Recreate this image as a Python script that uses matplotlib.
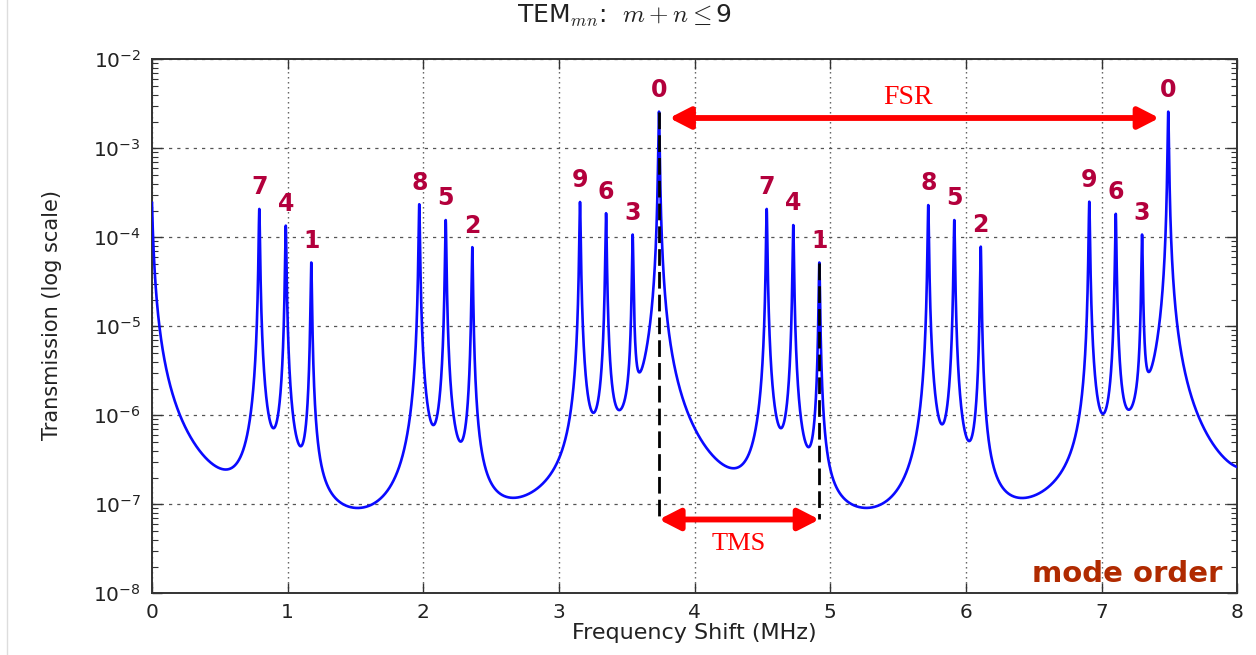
import numpy as np
import matplotlib

matplotlib.use("Agg")
import matplotlib.pyplot as plt
from matplotlib.lines import Line2D
from matplotlib.patches import FancyArrowPatch
from matplotlib.ticker import FixedLocator, NullFormatter, LogFormatterSciNotation

# ── cavity resonances: frequency shift (MHz) and peak transmission ─────────
MODE_ORDER = [7, 4, 1, 8, 5, 2, 9, 6, 3, 0,
              7, 4, 1, 8, 5, 2, 9, 6, 3, 0]
PEAK_FREQ = [0.791, 0.986, 1.174, 1.970, 2.165, 2.361, 3.155, 3.347, 3.543, 3.737,
             4.531, 4.727, 4.919, 5.722, 5.914, 6.109, 6.909, 7.104, 7.298, 7.491]
PEAK_HEIGHT = [2.08e-4, 1.35e-4, 5.19e-5, 2.35e-4, 1.56e-4, 7.73e-5, 2.49e-4, 1.86e-4, 1.06e-4, 2.58e-3,
               2.08e-4, 1.37e-4, 5.19e-5, 2.30e-4, 1.56e-4, 7.83e-5, 2.51e-4, 1.83e-4, 1.06e-4, 2.58e-3]
HALF_WIDTH = 0.0042   # Lorentzian HWHM, MHz
FSR = 3.75            # free spectral range, MHz

X_TICKS = [0, 1, 2, 3, 4, 5, 6, 7, 8]
Y_DECADES = [-8, -7, -6, -5, -4, -3, -2]

LABEL_RED = "#b3003c"
ARROW_RED = "#ff0000"


def transmission(freq, centers, heights, gamma):
    """Incoherent sum of Lorentzian resonances."""
    out = np.zeros_like(freq)
    for f0, a in zip(centers, heights):
        out += a / (1.0 + ((freq - f0) / gamma) ** 2)
    return out


pos = np.array(PEAK_FREQ)
amp = np.array(PEAK_HEIGHT)

# neighbouring orders just outside the window still feed the wings
img_pos = np.concatenate([pos - FSR, pos + FSR])
img_amp = np.concatenate([amp, amp])
outside = (img_pos < 0) | (img_pos > 8)
all_pos = np.concatenate([pos, img_pos[outside]])
all_amp = np.concatenate([amp, img_amp[outside]])

freq = np.union1d(np.linspace(0, 8, 24001), pos)
trans = transmission(freq, all_pos, all_amp, HALF_WIDTH)

# ── figure ─────────────────────────────────────────────────────────────────
W, H = 1256, 655
fig = plt.figure(figsize=(W / 100, H / 100), dpi=100, facecolor="white")
ax = fig.add_axes([152 / W, 1 - 593.3 / H, (1237.3 - 152) / W, (593.3 - 59.3) / H])

ax.plot(freq, trans, color="#0a0aff", lw=1.9, zorder=3)
ax.set_yscale("log")
ax.set_xlim(0, 8)
ax.set_ylim(1e-8, 1e-2)
ax.set_xticks(X_TICKS)

# explicit decade / sub-decade ticks, only inside the visible range
major_y = [10.0 ** e for e in Y_DECADES]
minor_y = [k * 10.0 ** e for e in Y_DECADES[:-1] for k in range(2, 10)]
ax.yaxis.set_major_locator(FixedLocator(major_y))
ax.yaxis.set_major_formatter(LogFormatterSciNotation())
ax.yaxis.set_minor_locator(FixedLocator(minor_y))
ax.yaxis.set_minor_formatter(NullFormatter())

ax.xaxis.grid(True, linestyle=(0, (1, 2.6)), color="#555", lw=1.0)
ax.yaxis.grid(True, which="major", linestyle=(0, (2.6, 4)), color="#555", lw=0.9)
ax.set_axisbelow(True)

for s in ax.spines.values():
    s.set_linewidth(1.4)
    s.set_color("#333")
ax.tick_params(which="both", direction="in", top=True, right=True,
               colors="#333", labelcolor="#222", labelsize=14.5)
ax.tick_params(which="major", length=7, width=1.0)
ax.tick_params(which="minor", length=4, width=0.8)
ax.tick_params(axis="y", pad=8)
ax.tick_params(axis="x", pad=7)

ax.set_xlabel("Frequency Shift (MHz)", fontsize=16, color="#222", va="top")
ax.xaxis.set_label_coords(0.5, -0.056)
ax.set_ylabel("Transmission (log scale)", fontsize=15, color="#222")
ax.yaxis.set_label_coords(-0.083, 0.521)

fig.text(625 / W, 1 - 16 / H, r"TEM$_{mn}$:  $m+n\leq$9", ha="center", va="center",
         fontsize=18, color="#222", math_fontfamily="cm")

# mode-order labels above each peak
for m, f0, a in zip(MODE_ORDER, PEAK_FREQ, PEAK_HEIGHT):
    ax.annotate(str(m), (f0, a), xytext=(0, 7), textcoords="offset points",
                ha="center", va="bottom", fontsize=17, fontweight="bold",
                color=LABEL_RED, zorder=5)

ax.text(7.887, 1.34e-8, "mode order", ha="right", va="baseline", fontsize=21,
        fontweight="bold", color="#b02a00", zorder=5)


def double_arrow(x0, x1, y):
    ax.add_patch(FancyArrowPatch(
        (x0, y), (x1, y), arrowstyle="<|-|>,head_length=0.78,head_width=0.4",
        mutation_scale=16, color=ARROW_RED, lw=4.2, shrinkA=0, shrinkB=0, zorder=6))


# TMS: fundamental to first-order mode of the next group
f_fund, a_fund = PEAK_FREQ[9], PEAK_HEIGHT[9]
f_first, a_first = PEAK_FREQ[12], PEAK_HEIGHT[12]
y_tms = 6.75e-8
for fx, top in [(f_fund, a_fund), (f_first, a_first)]:
    ax.plot([fx, fx], [top, y_tms], color="black", lw=2.0, dashes=(6, 2.2), zorder=4)

double_arrow(f_fund, f_first, y_tms)
ax.text((f_fund + f_first) / 2, 3.6e-8, "TMS", ha="center", va="center",
        fontsize=19, family="Liberation Serif", color=ARROW_RED, zorder=6)

# FSR: between the two fundamentals
f_fund2 = PEAK_FREQ[19]
y_fsr = 2.19e-3
double_arrow(f_fund + 0.076, f_fund2 - 0.066, y_fsr)
ax.text(5.57, 3.74e-3, "FSR", ha="center", va="center", fontsize=20,
        family="Liberation Serif", color=ARROW_RED, zorder=6)

# thin page edge on the left
fig.add_artist(Line2D([7 / W, 7 / W], [0, 1], transform=fig.transFigure,
                      color="#dddddd", lw=1.0))

fig.savefig("out.png", dpi=100, facecolor="white")
